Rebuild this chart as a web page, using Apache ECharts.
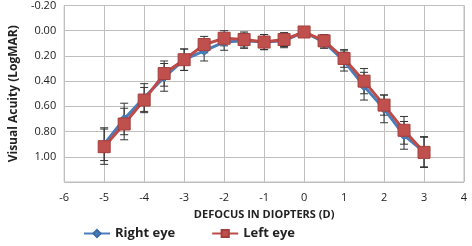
<!DOCTYPE html>
<html>
<head>
<meta charset="utf-8">
<script src="https://cdn.jsdelivr.net/npm/echarts@6/dist/echarts.min.js"></script>
<style>
  html, body { margin: 0; padding: 0; background: #fff; }
  #chart { width: 472px; height: 246px; }
</style>
</head>
<body>
<div id="chart"></div>
<script>
var defocus = [-5, -4.5, -4, -3.5, -3, -2.5, -2, -1.5, -1, -0.5, 0, 0.5, 1, 1.5, 2, 2.5, 3];
var rightEye = [0.90, 0.70, 0.53, 0.37, 0.23, 0.16, 0.09, 0.08, 0.09, 0.08, 0.01, 0.09, 0.24, 0.44, 0.62, 0.83, 0.96];
var rightSd  = [0.13, 0.125, 0.11, 0.11, 0.085, 0.08, 0.065, 0.06, 0.06, 0.055, 0.01, 0.05, 0.08, 0.11, 0.11, 0.11, 0.12];
var leftEye  = [0.92, 0.74, 0.55, 0.34, 0.23, 0.11, 0.06, 0.07, 0.09, 0.07, 0.01, 0.08, 0.22, 0.40, 0.59, 0.79, 0.965];
var leftSd   = [0.14, 0.125, 0.10, 0.10, 0.085, 0.065, 0.06, 0.06, 0.06, 0.055, 0.01, 0.05, 0.07, 0.10, 0.08, 0.11, 0.12];

var fontFam = 'Open Sans';

function pairs(vals) {
    return defocus.map(function (x, i) { return [x, vals[i]]; });
}
function errData(vals, sd) {
    return defocus.map(function (x, i) { return [x, vals[i], sd[i]]; });
}
// error bar with small caps
function renderErr(params, api) {
    var x = api.value(0), y = api.value(1), e = api.value(2);
    var top = api.coord([x, y - e]);
    var bot = api.coord([x, y + e]);
    var w = 4;
    var st = { stroke: '#333', lineWidth: 1 };
    return {
        type: 'group',
        children: [
            { type: 'line', shape: { x1: top[0], y1: top[1], x2: bot[0], y2: bot[1] }, style: st },
            { type: 'line', shape: { x1: top[0] - w, y1: top[1], x2: top[0] + w, y2: top[1] }, style: st },
            { type: 'line', shape: { x1: bot[0] - w, y1: bot[1], x2: bot[0] + w, y2: bot[1] }, style: st }
        ]
    };
}

var chart = echarts.init(document.getElementById('chart'));
var option = {
    animation: false,
    textStyle: { fontFamily: fontFam },
    grid: {
        left: 53,
        right: 8,
        top: 5,
        bottom: 64,
        show: true,
        borderColor: '#bfbfbf',
        borderWidth: 1
    },
    legend: {
        left: 78,
        bottom: 1,
        itemWidth: 26,
        itemHeight: 9,
        itemGap: 36,
        textStyle: { fontFamily: fontFam, fontWeight: 'bold', fontSize: 13, color: '#222' },
        data: ['Right eye', 'Left eye']
    },
    xAxis: {
        type: 'value',
        min: -6,
        max: 4,
        interval: 1,
        name: 'DEFOCUS IN DIOPTERS (D)',
        nameLocation: 'middle',
        nameGap: 27,
        nameTextStyle: { fontFamily: fontFam, fontWeight: 'bold', fontSize: 11, color: '#222' },
        axisLine: { show: false },
        axisTick: { show: false },
        axisLabel: { color: '#222', fontSize: 11, margin: 10 },
        splitLine: { show: true, lineStyle: { color: '#bfbfbf', width: 1 } }
    },
    yAxis: {
        type: 'value',
        inverse: true,
        min: -0.2,
        max: 1.2,
        interval: 0.2,
        name: 'Visual Acuity (LogMAR)',
        nameLocation: 'middle',
        nameGap: 39,
        nameRotate: 90,
        nameTextStyle: { fontFamily: fontFam, fontWeight: 'bold', fontSize: 12, color: '#222' },
        axisLine: { show: false },
        axisTick: { show: false },
        axisLabel: {
            color: '#222',
            fontSize: 11,
            margin: 8,
            formatter: function (v) {
                if (v > 1.1) return '';
                return v.toFixed(2);
            }
        },
        splitLine: { show: true, lineStyle: { color: '#bfbfbf', width: 1 } }
    },
    series: [
        {
            name: 'Right eye err',
            type: 'custom',
            renderItem: renderErr,
            data: errData(rightEye, rightSd),
            encode: { x: 0, y: [1, 2] },
            z: 1,
            silent: true
        },
        {
            name: 'Left eye err',
            type: 'custom',
            renderItem: renderErr,
            data: errData(leftEye, leftSd),
            encode: { x: 0, y: [1, 2] },
            z: 1,
            silent: true
        },
        {
            name: 'Right eye',
            type: 'line',
            data: pairs(rightEye),
            symbol: 'diamond',
            symbolSize: 9,
            lineStyle: { color: '#4a7ebb', width: 3 },
            itemStyle: { color: '#4a7ebb', borderColor: '#3b6aa5', borderWidth: 1 },
            z: 3
        },
        {
            name: 'Left eye',
            type: 'line',
            data: pairs(leftEye),
            symbol: 'rect',
            symbolSize: 12,
            lineStyle: { color: '#be4b48', width: 3 },
            itemStyle: { color: '#c0504d', borderColor: '#a53e3b', borderWidth: 1 },
            z: 4
        }
    ]
};
chart.setOption(option);
</script>
</body>
</html>
